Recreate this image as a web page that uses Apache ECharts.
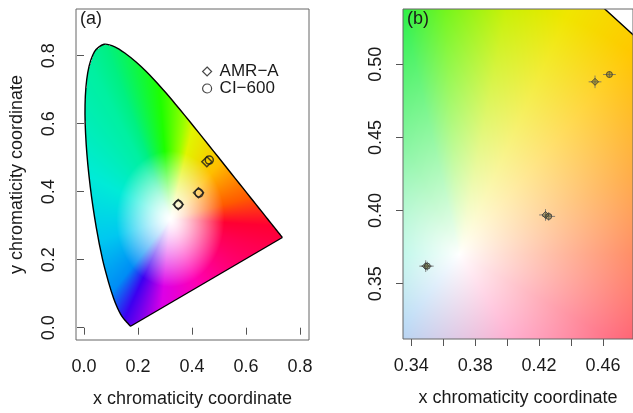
<!DOCTYPE html>
<html>
<head>
<meta charset="utf-8">
<script src="https://cdn.jsdelivr.net/npm/echarts@6/dist/echarts.min.js"></script>
<style>
  html, body { margin: 0; background: #fff; }
  #main { width: 633px; height: 413px; }
</style>
</head>
<body>
<div id="main"></div>
<script>
// CIE 1931 2-degree spectral locus, 380 -> 700 nm
var locusX = [0.1741, 0.1738, 0.1733, 0.1726, 0.1714, 0.1703, 0.1689, 0.1669, 0.1644, 0.1611,
  0.1566, 0.1510, 0.1440, 0.1355, 0.1241, 0.1096, 0.0913, 0.0687, 0.0454, 0.0235,
  0.0082, 0.0039, 0.0139, 0.0389, 0.0743, 0.1142, 0.1547, 0.1929, 0.2296, 0.2658,
  0.3016, 0.3373, 0.3731, 0.4087, 0.4441, 0.4788, 0.5125, 0.5448, 0.5752, 0.6029,
  0.6270, 0.6482, 0.6658, 0.6801, 0.6915, 0.7006, 0.7079, 0.7140, 0.7190, 0.7230,
  0.7260, 0.7283, 0.7300, 0.7320, 0.7334, 0.7344, 0.7347];
var locusY = [0.0050, 0.0049, 0.0048, 0.0048, 0.0051, 0.0058, 0.0069, 0.0086, 0.0109, 0.0138,
  0.0177, 0.0227, 0.0297, 0.0399, 0.0578, 0.0868, 0.1327, 0.2007, 0.2950, 0.4127,
  0.5384, 0.6548, 0.7502, 0.8120, 0.8338, 0.8262, 0.8059, 0.7816, 0.7543, 0.7243,
  0.6923, 0.6589, 0.6245, 0.5896, 0.5547, 0.5202, 0.4866, 0.4544, 0.4242, 0.3965,
  0.3725, 0.3514, 0.3340, 0.3197, 0.3083, 0.2993, 0.2920, 0.2859, 0.2809, 0.2770,
  0.2740, 0.2717, 0.2700, 0.2680, 0.2666, 0.2656, 0.2653];

// measured chromaticity coordinates
var seriesNames = ['AMR\u2212A', 'CI\u2212600'];
var amrX = [0.349, 0.424, 0.455];
var amrY = [0.362, 0.397, 0.488];
var amrErrX = [0.004, 0.004, 0.004];
var amrErrY = [0.004, 0.004, 0.0043];
var ciX = [0.350, 0.426, 0.464];
var ciY = [0.362, 0.396, 0.493];
var ciErrX = [0.004, 0.004, 0.004];
var ciErrY = [0.003, 0.003, 0.002];

var ticksA = [0, 0.2, 0.4, 0.6, 0.8];
var ticksBx = [0.34, 0.36, 0.38, 0.40, 0.42, 0.44, 0.46];
var labelsBx = [0.34, 0.38, 0.42, 0.46];
var ticksBy = [0.35, 0.40, 0.45, 0.50];

var FONT = '"Liberation Sans", Arial, sans-serif';

function zip(a, b) { return a.map(function (v, i) { return [v, b[i]]; }); }

// colour fill: full colour by angle around a white point, mixed with white by distance
var paletteA = {
  ang: [-3, 12, 41.6, 73, 80.5, 96, 115, 123, 157, 193.5, 225, 240, 263, 297, 346, 357],
  rgb: [[255, 0, 50], [255, 90, 0], [255, 190, 0], [225, 245, 0], [150, 255, 0], [30, 255, 0],
    [0, 240, 130], [0, 240, 160], [0, 235, 215], [0, 200, 240], [0, 140, 245], [60, 0, 240],
    [220, 0, 230], [255, 0, 180], [255, 0, 80], [255, 0, 50]]
};
var paletteB = {
  ang: [-60, -31, 0, 26.6, 52, 67.6, 80, 93, 102, 114, 180, 235, 300],
  rgb: [[255, 60, 140], [255, 40, 70], [255, 80, 20], [255, 140, 0], [255, 200, 0], [240, 230, 0],
    [200, 240, 0], [110, 245, 20], [40, 240, 70], [20, 235, 70], [0, 225, 170], [80, 160, 230], [255, 60, 140]]
};

function makeColor(pal, wx, wy, d0, gam) {
  var ang = pal.ang, rgb = pal.rgb;
  return function (x, y) {
    var dx = x - wx, dy = y - wy;
    var a = Math.atan2(dy, dx) * 180 / Math.PI;
    if (a < ang[0]) a += 360;
    var k = 0;
    while (k < ang.length - 2 && a > ang[k + 1]) k++;
    var f = (a - ang[k]) / (ang[k + 1] - ang[k]);
    var c0 = rgb[k], c1 = rgb[k + 1];
    var s = Math.pow(Math.min(1, Math.sqrt(dx * dx + dy * dy) / d0), gam);
    return [0, 1, 2].map(function (n) {
      var c = c0[n] + f * (c1[n] - c0[n]);
      return Math.round(255 + s * (c - 255));
    });
  };
}
var colorA = makeColor(paletteA, 0.32, 0.32, 0.2, 1.3);
var colorB = makeColor(paletteB, 0.37, 0.37, 0.175, 0.9);

function inside(pts, px, py) {
  var c = false;
  for (var i = 0, j = pts.length - 1; i < pts.length; j = i++) {
    var xi = pts[i][0], yi = pts[i][1], xj = pts[j][0], yj = pts[j][1];
    if ((yi > py) !== (yj > py) && px < (xj - xi) * (py - yi) / (yj - yi) + xi) c = !c;
  }
  return c;
}

function diagram(colorFn) {
  return function (params, api) {
    var cs = params.coordSys;
    var o = api.coord([0, 0]), u = api.coord([1, 1]);
    var sx = u[0] - o[0], sy = u[1] - o[1];
    var pts = locusX.map(function (x, i) { return api.coord([x, locusY[i]]); });
    var w = Math.round(cs.width), h = Math.round(cs.height);
    var cv = document.createElement('canvas');
    cv.width = w; cv.height = h;
    var ctx = cv.getContext('2d');
    var img = ctx.createImageData(w, h);
    for (var j = 0; j < h; j++) {
      for (var i = 0; i < w; i++) {
        var px = cs.x + i + 0.5, py = cs.y + j + 0.5;
        if (!inside(pts, px, py)) continue;
        var col = colorFn((px - o[0]) / sx, (py - o[1]) / sy);
        var k = (j * w + i) * 4;
        img.data[k] = col[0]; img.data[k + 1] = col[1]; img.data[k + 2] = col[2]; img.data[k + 3] = 255;
      }
    }
    ctx.putImageData(img, 0, 0);
    var first = pts[0], last = pts[pts.length - 1];
    var edge = { fill: 'none', stroke: '#000', lineWidth: 1.4 };
    return {
      type: 'group',
      children: [
        { type: 'image', style: { image: cv, x: cs.x, y: cs.y, width: w, height: h } },
        { type: 'polyline', shape: { points: pts, smooth: 0.3 }, style: edge },
        { type: 'line', shape: { x1: last[0], y1: last[1], x2: first[0], y2: first[1] }, style: edge }
      ]
    };
  };
}

function renderFrame(params) {
  var cs = params.coordSys;
  return { type: 'rect', shape: { x: cs.x, y: cs.y, width: cs.width, height: cs.height },
    style: { fill: 'none', stroke: '#666', lineWidth: 1 } };
}

function renderErr(params, api) {
  var x = api.value(0), y = api.value(1), ex = api.value(2), ey = api.value(3);
  var a = api.coord([x - ex, y]), b = api.coord([x + ex, y]);
  var c = api.coord([x, y - ey]), d = api.coord([x, y + ey]);
  var st = { stroke: '#6a6a6a', lineWidth: 0.8 };
  return { type: 'group', children: [
    { type: 'line', shape: { x1: a[0], y1: a[1], x2: b[0], y2: b[1] }, style: st },
    { type: 'line', shape: { x1: c[0], y1: c[1], x2: d[0], y2: d[1] }, style: st }
  ] };
}

function errData(xs, ys, exs, eys) {
  return xs.map(function (v, i) { return [v, ys[i], exs[i], eys[i]]; });
}

function xAxis(idx, min, max, ticks, labels, dec) {
  return {
    type: 'value', gridIndex: idx, min: min, max: max,
    splitLine: { show: false }, axisLine: { show: false },
    axisTick: { show: true, inside: false, length: 7, customValues: ticks, lineStyle: { color: '#555' } },
    axisLabel: { customValues: labels, margin: 18, fontSize: 18, fontFamily: FONT, color: '#1a1a1a',
      formatter: function (v) { return v.toFixed(dec); } },
    name: 'x chromaticity coordinate', nameLocation: 'middle', nameGap: 50,
    nameTextStyle: { fontSize: 18, fontFamily: FONT, color: '#1a1a1a' }
  };
}

function yAxis(idx, min, max, ticks, dec, title) {
  return {
    type: 'value', gridIndex: idx, min: min, max: max,
    splitLine: { show: false }, axisLine: { show: false },
    axisTick: { show: true, inside: false, length: 7, customValues: ticks, lineStyle: { color: '#555' } },
    axisLabel: { customValues: ticks, rotate: 90, margin: 18, fontSize: 18, fontFamily: FONT, color: '#1a1a1a',
      formatter: function (v) { return v.toFixed(dec); } },
    name: title, nameLocation: 'middle', nameGap: 50,
    nameTextStyle: { fontSize: 18, fontFamily: FONT, color: '#1a1a1a' }
  };
}

var chart = echarts.init(document.getElementById('main'));
var hollow = function (bw) {
  return { color: 'transparent', borderColor: '#1a1a1a', borderWidth: bw };
};
var panelText = { fontSize: 18, fontWeight: 'normal', fontFamily: FONT, color: '#1a1a1a' };

chart.setOption({
  animation: false,
  backgroundColor: '#fff',
  title: [
    { text: '(a)', left: 80, top: 10, padding: 0, textStyle: panelText },
    { text: '(b)', left: 407, top: 10, padding: 0, textStyle: panelText }
  ],
  legend: {
    orient: 'vertical', left: 197, top: 58, itemWidth: 9, itemHeight: 9, itemGap: 0,
    textStyle: { fontSize: 17, fontFamily: FONT, color: '#1a1a1a', lineHeight: 17, padding: [0, 0, 0, 3] },
    data: [
      { name: seriesNames[0], icon: 'diamond', itemStyle: hollow(1.2) },
      { name: seriesNames[1], icon: 'circle', itemStyle: hollow(1.2) }
    ]
  },
  grid: [
    { left: 76, top: 9, width: 233, height: 331 },
    { left: 403, top: 9, width: 240, height: 330 }
  ],
  xAxis: [
    xAxis(0, -0.0296, 0.8333, ticksA, ticksA, 1),
    xAxis(1, 0.33478, 0.47878, ticksBx, labelsBx, 2)
  ],
  yAxis: [
    yAxis(0, -0.0362, 0.9374, ticksA, 1, 'y chromaticity coordinate'),
    yAxis(1, 0.31218, 0.5378, ticksBy, 2, '')
  ],
  series: [
    { type: 'custom', xAxisIndex: 0, yAxisIndex: 0, renderItem: diagram(colorA), data: [[0.4, 0.4]], clip: true, z: 1, silent: true },
    { type: 'custom', xAxisIndex: 1, yAxisIndex: 1, renderItem: diagram(colorB), data: [[0.4, 0.4]], clip: true, z: 1, silent: true },
    { type: 'custom', xAxisIndex: 0, yAxisIndex: 0, renderItem: renderFrame, data: [[0.4, 0.4]], z: 6, silent: true },
    { type: 'custom', xAxisIndex: 1, yAxisIndex: 1, renderItem: renderFrame, data: [[0.4, 0.4]], z: 6, silent: true },
    { type: 'custom', xAxisIndex: 1, yAxisIndex: 1, renderItem: renderErr, data: errData(amrX, amrY, amrErrX, amrErrY), z: 3, clip: true },
    { type: 'custom', xAxisIndex: 1, yAxisIndex: 1, renderItem: renderErr, data: errData(ciX, ciY, ciErrX, ciErrY), z: 3, clip: true },
    { name: seriesNames[0], type: 'scatter', xAxisIndex: 0, yAxisIndex: 0, symbol: 'diamond', symbolSize: 10,
      itemStyle: hollow(1.5), data: zip(amrX, amrY), z: 4 },
    { name: seriesNames[1], type: 'scatter', xAxisIndex: 0, yAxisIndex: 0, symbol: 'circle', symbolSize: 8,
      itemStyle: hollow(1.5), data: zip(ciX, ciY), z: 4 },
    { name: seriesNames[0], type: 'scatter', xAxisIndex: 1, yAxisIndex: 1, symbol: 'diamond', symbolSize: 7,
      itemStyle: { color: 'rgba(90,90,40,0.5)', borderColor: '#333', borderWidth: 1 }, data: zip(amrX, amrY), z: 4 },
    { name: seriesNames[1], type: 'scatter', xAxisIndex: 1, yAxisIndex: 1, symbol: 'circle', symbolSize: 6,
      itemStyle: { color: 'rgba(90,90,40,0.5)', borderColor: '#333', borderWidth: 1 }, data: zip(ciX, ciY), z: 4 }
  ]
});
</script>
</body>
</html>
